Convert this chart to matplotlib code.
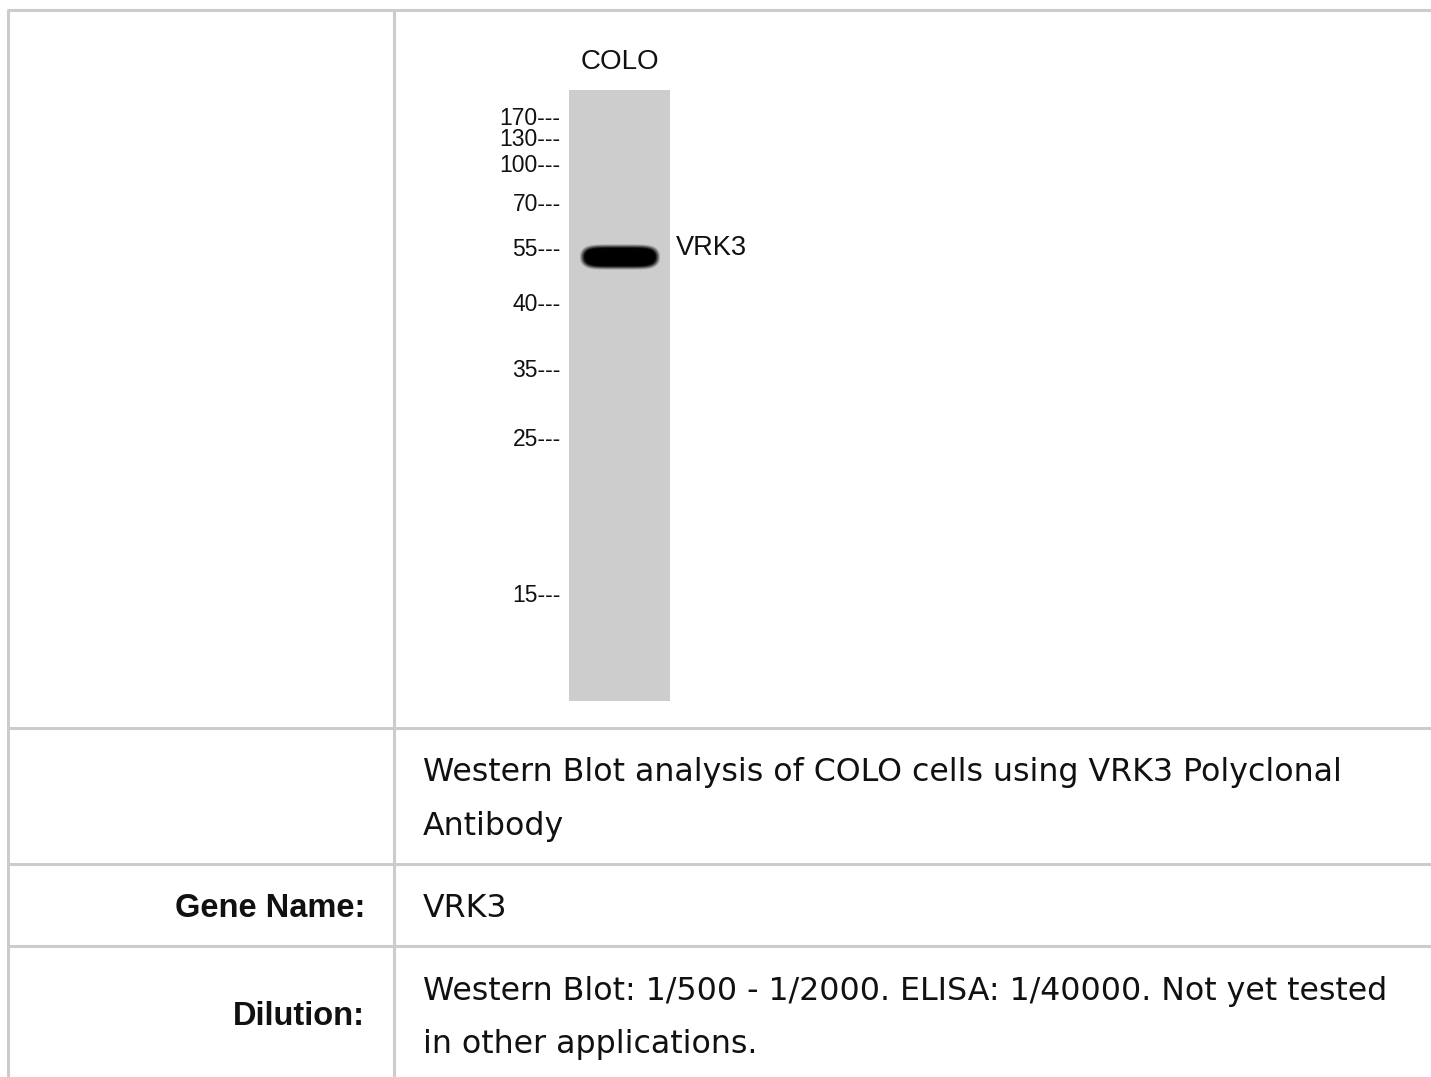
import numpy as np
import matplotlib
matplotlib.use("Agg")
import matplotlib.pyplot as plt

# ---------------- data ----------------
lanes = ["COLO"]
marker_kda = [170, 130, 100, 70, 55, 40, 35, 25, 15]
# migration distance of each marker from the top of the gel (gel units)
marker_migration = [26, 47, 73, 112, 157, 212, 278, 347, 503]
gel_length = 611
band_name = "VRK3"
band_migration = [167]       # migration of the detected band in the COLO lane
band_intensity = [1.0]

row_labels = ["", "", "Gene Name:", "Dilution:"]
row_texts = [
    None,
    ["Western Blot analysis of COLO cells using VRK3 Polyclonal", "Antibody"],
    ["VRK3"],
    ["Western Blot: 1/500 - 1/2000. ELISA: 1/40000. Not yet tested",
     "in other applications."],
]

# ---------------- figure ----------------
W, H = 1431, 1077
fig = plt.figure(figsize=(W / 100, H / 100), dpi=100)
fig.patch.set_facecolor("white")

# page axes in pixel coordinates
page = fig.add_axes([0, 0, 1, 1])
page.set_xlim(0, W)
page.set_ylim(H, 0)
page.axis("off")

line_c = "#cccccc"
lw = 2.2
row_bounds = [9.5, 728, 864, 946, H + 5]
x_left, x_mid = 8, 394
page.plot([x_left - 1.5, W], [row_bounds[0]] * 2, color=line_c, lw=lw, solid_capstyle="butt")
for yb in row_bounds[1:-1]:
    page.plot([x_left, W], [yb, yb], color=line_c, lw=lw, solid_capstyle="butt")
page.plot([x_left, x_left], [row_bounds[0], H], color=line_c, lw=lw, solid_capstyle="butt")
page.plot([x_mid, x_mid], [row_bounds[0], H], color=line_c, lw=lw, solid_capstyle="butt")

font_txt = ["Liberation Sans", "DejaVu Sans"]
font_body = ["DejaVu Sans"]
txt_size = 22.8
baselines = {1: [781, 835], 2: [917], 3: [1000, 1053]}
label_baselines = {2: 917, 3: 1025}
for i, lines in enumerate(row_texts):
    if lines is None:
        continue
    for ln, yb in zip(lines, baselines[i]):
        page.text(423, yb, ln, fontsize=txt_size, family=font_body,
                  ha="left", va="baseline", color="#111111")
    if row_labels[i]:
        page.text(365, label_baselines[i], row_labels[i], fontsize=23.5,
                  family=font_txt, fontweight="bold", ha="right", va="baseline",
                  color="#111111")

# ---------------- gel ----------------
gx0, gx1, gy0, gy1 = 569, 670, 90, 701
gel = fig.add_axes([gx0 / W, (H - gy1) / H, (gx1 - gx0) / W, (gy1 - gy0) / H])
gel.set_facecolor("#cdcdcd")
gel.set_xlim(-0.5, len(lanes) - 0.5)
gel.set_ylim(gel_length, 0)
for s in gel.spines.values():
    s.set_visible(False)

# band drawn as a soft dark blob
for li, (mig, inten) in enumerate(zip(band_migration, band_intensity)):
    half_w = 0.365
    half_h = 10.0
    xs = np.linspace(li - 0.5, li + 0.5, 300)
    ys = np.linspace(mig - 25, mig + 25, 200)
    X, Y = np.meshgrid(xs, ys)
    dx = np.abs((X - li - 0.005) / half_w)
    dy = np.abs((Y - mig) / half_h)
    r = (dx ** 6 + dy ** 2.2) ** (1 / 2.2)
    alpha = np.clip((1.3 - r) / 0.4, 0, 1) * inten
    rgba = np.zeros(X.shape + (4,))
    rgba[..., 3] = alpha
    gel.imshow(rgba, extent=[xs[0], xs[-1], ys[-1], ys[0]], aspect="auto",
               interpolation="bilinear", zorder=3)
    gel.text(li + 0.555, mig - 9, band_name, transform=gel.transData,
             fontsize=19.5, family=font_txt, ha="left", va="center",
             color="#111111", clip_on=False)
gel.set_xlim(-0.5, len(lanes) - 0.5)
gel.set_ylim(gel_length, 0)

# marker ladder as y tick labels
gel.set_yticks(marker_migration)
gel.set_yticklabels([f"{m}---" for m in marker_kda], fontsize=16.5,
                    family=font_txt, color="#111111")
gel.tick_params(axis="y", length=0, pad=6)
gel.set_xticks([])

# lane label
for li, name in enumerate(lanes):
    gel.text(li, -21, name, fontsize=20, family=font_txt, ha="center",
             va="baseline", color="#111111", clip_on=False)

fig.savefig("out.png", dpi=100, facecolor="white")
